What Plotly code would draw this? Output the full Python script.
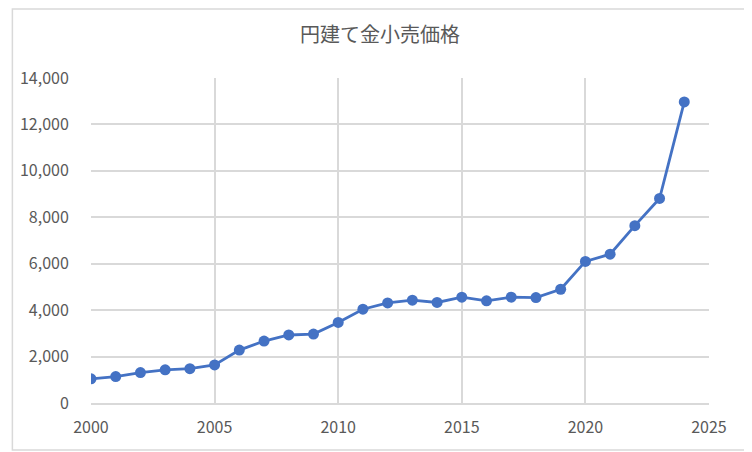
import plotly.graph_objects as go

years = list(range(2000, 2025))
price_yen = [
    1040, 1140, 1310, 1430, 1480, 1640, 2280, 2670, 2930, 2970,
    3470, 4040, 4310, 4430, 4330, 4560, 4400, 4560, 4540, 4900,
    6100, 6410, 7640, 8810, 12970,
]
x_ticks = [2000, 2005, 2010, 2015, 2020, 2025]
y_ticks = [0, 2000, 4000, 6000, 8000, 10000, 12000, 14000]

# page has an 8px body margin, so the figure is 744x444 placed at (8, 8)
W, H = 744, 444
ML, MR, MT, MB = 80, 43, 70, 49
pw, ph = W - ML - MR, H - MT - MB

fig = go.Figure()
fig.add_trace(
    go.Scatter(
        x=years,
        y=price_yen,
        mode="lines+markers",
        line={"color": "#4472C4", "width": 2.8},
        marker={"color": "#4472C4", "size": 11},
        showlegend=False,
    )
)

font = "Noto Sans CJK JP"
fig.update_xaxes(
    range=[2000, 2025],
    tickvals=x_ticks,
    showgrid=True,
    gridcolor="#d9d9d9",
    gridwidth=1.6,
    showline=True,
    linecolor="#d9d9d9",
    linewidth=1.6,
    zeroline=False,
    ticks="outside",
    ticklen=9,
    tickcolor="rgba(0,0,0,0)",
    tickfont={"family": font, "size": 16, "color": "#595959"},
)
fig.update_yaxes(
    range=[0, 14000],
    tickvals=y_ticks,
    tickformat=",d",
    showgrid=True,
    gridcolor="#d9d9d9",
    gridwidth=1.6,
    zeroline=False,
    ticks="outside",
    ticklen=18,
    tickcolor="rgba(0,0,0,0)",
    tickfont={"family": font, "size": 16, "color": "#595959"},
)

# outer chart border
fig.add_shape(
    type="rect",
    xref="paper",
    yref="paper",
    x0=(1 - ML) / pw,
    x1=(W - 1 - ML) / pw,
    y0=-(MB - 2) / ph,
    y1=1 + (MT - 1) / ph,
    line={"color": "#d9d9d9", "width": 1.5},
)

fig.update_layout(
    title={
        "text": "円建て金小売価格",
        "x": 0.5,
        "xanchor": "center",
        "y": 1 - 27 / H,
        "yanchor": "middle",
        "font": {"family": font, "size": 20, "color": "#595959"},
    },
    width=W,
    height=H,
    margin={"l": ML, "r": MR, "t": MT, "b": MB},
    plot_bgcolor="white",
    paper_bgcolor="white",
)

fig.write_html("out.html")
